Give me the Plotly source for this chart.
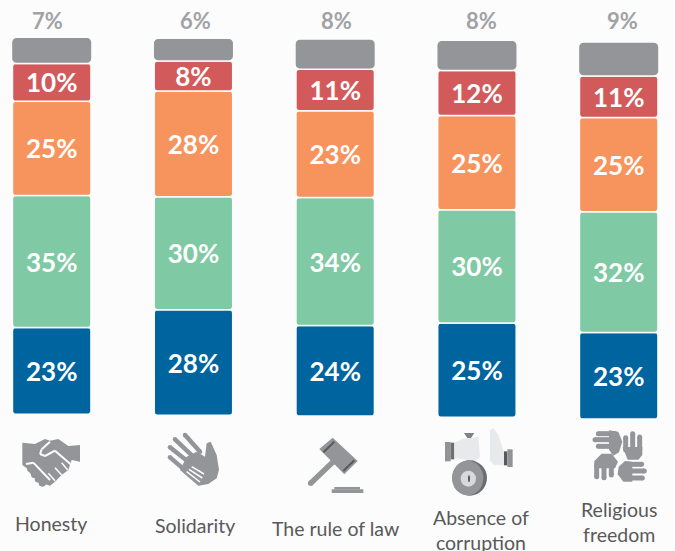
import numpy as np
import plotly.graph_objects as go

W, H = 675, 551
BG = "#fcfcfc"
GRAY = "#939598"

categories = ["Honesty", "Solidarity", "The rule of law", "Absence of<br>corruption", "Religious<br>freedom"]
series_blue = [23, 28, 24, 25, 23]
series_green = [35, 30, 34, 30, 32]
series_orange = [25, 28, 23, 25, 25]
series_red = [10, 8, 11, 12, 11]
series_gray = [7, 6, 8, 8, 9]
baseline = [0, -0.3, -0.5, -0.8, -1.3]

stack = [
    (series_blue, "#00659f", 78.5, 3),
    (series_green, "#7fc9a5", 78.5, 3),
    (series_orange, "#f7935c", 78.5, 3),
    (series_red, "#d35a5a", 78.5, 3),
    (series_gray, GRAY, 80.5, 5),
]

SPACING = 141.75
X0 = 51.7
PX_PER_UNIT = 3.77
Y0 = 414.2

idx = list(range(5))
fig = go.Figure()
base = np.array(baseline, dtype=float)
for vals, col, wpx, rad in stack:
    is_gray = col == GRAY
    fig.add_trace(go.Bar(
        x=idx, y=vals, base=base.tolist(), width=wpx / SPACING,
        marker=dict(color=col, line=dict(color=BG, width=1.5), cornerradius=rad),
        text=None if is_gray else [f"{v}%" for v in vals],
        textposition=None if is_gray else "inside",
        insidetextanchor="middle", textangle=0, constraintext="none",
        textfont=dict(family="Lato", size=26, color="white", weight="bold"),
        hoverinfo="skip", showlegend=False,
    ))
    base = base + np.array(vals)

annotations = []
top_label_shift = [-4, 2.5, 1, 5, 4]
for i, v in enumerate(series_gray):
    annotations.append(dict(
        x=i, xref="x", y=1 - 21 / H, yref="paper", text=f"<b>{v}%</b>", showarrow=False,
        xshift=top_label_shift[i],
        font=dict(family="Lato", size=22, color="#a0a2a5"), xanchor="center", yanchor="middle",
    ))

label_x = [51, 195, 335, 481, 619]
label_y = [523.5, 525.5, 528.5, 530, 522]
for c, lx, ly in zip(categories, label_x, label_y):
    annotations.append(dict(
        x=lx / W, xref="paper", y=1 - ly / H, yref="paper", text=c, showarrow=False,
        font=dict(family="Lato", size=19.5, color="#595959"), xanchor="center", yanchor="middle",
        align="center",
    ))

# ---- pictograms (decorative, drawn in page pixels) ----
shapes = []


def poly(pts, ox, oy, color, s=3):
    d = ""
    for k, (a, b) in enumerate(pts):
        d += ("M" if k == 0 else "L") + f"{(ox + a / s) / W:.5f},{1 - (oy + b / s) / H:.5f} "
    shapes.append(dict(type="path", xref="paper", yref="paper", path=d + "Z",
                       fillcolor=color, line=dict(width=0), layer="above"))


def circle(cx, cy, rx, ry, ox, oy, color, s=3):
    shapes.append(dict(type="circle", xref="paper", yref="paper",
                       x0=(ox + (cx - rx) / s) / W, x1=(ox + (cx + rx) / s) / W,
                       y0=1 - (oy + (cy + ry) / s) / H, y1=1 - (oy + (cy - ry) / s) / H,
                       fillcolor=color, line=dict(width=0), layer="above"))


def stroke(pts, w, ox, oy, color, s=3, caps=True):
    for (a, b), (c, d) in zip(pts[:-1], pts[1:]):
        shapes.append(dict(type="line", xref="paper", yref="paper",
                           x0=(ox + a / s) / W, x1=(ox + c / s) / W,
                           y0=1 - (oy + b / s) / H, y1=1 - (oy + d / s) / H,
                           line=dict(color=color, width=w), layer="above"))
    if caps:
        for a, b in (pts[0], pts[-1]):
            circle(a, b, w * s / 2, w * s / 2, ox, oy, color, s)


# handshake
ox, oy = 0, 420
poly([(67, 68), (105, 72), (135, 57), (150, 62), (175, 57), (205, 78), (240, 75), (240, 125), (215, 120),
      (205, 150), (185, 165), (165, 185), (150, 197), (128, 190), (105, 175), (90, 160), (80, 145), (67, 135)],
     ox, oy, GRAY)
stroke([(150, 65), (125, 88), (120, 102), (135, 108), (165, 92), (218, 138)], 2, ox, oy, BG, caps=False)
stroke([(165, 182), (145, 160)], 1.5, ox, oy, BG, caps=False)
stroke([(185, 165), (165, 143)], 1.5, ox, oy, BG, caps=False)
stroke([(203, 150), (185, 128)], 1.5, ox, oy, BG, caps=False)
stroke([(78, 132), (100, 128), (150, 180)], 2, ox, oy, BG, caps=False)
for cx, cy in [(92, 146), (104, 164), (115, 178), (127, 190)]:
    circle(cx, cy, 11, 10, ox, oy, GRAY)

# helping hands
stroke([(555, 45), (600, 95)], 4.5, ox, oy, GRAY)
stroke([(525, 58), (585, 115)], 4.5, ox, oy, GRAY)
stroke([(510, 82), (570, 130)], 4.5, ox, oy, GRAY)
stroke([(510, 112), (560, 155)], 4.5, ox, oy, GRAY)
poly([(590, 95), (615, 110), (620, 70), (632, 65), (650, 105), (657, 150), (650, 175), (625, 192), (595, 197),
      (540, 150), (560, 110)], ox, oy, GRAY)
stroke([(575, 140), (612, 162)], 1.5, ox, oy, BG, caps=False)
stroke([(567, 148), (607, 174)], 1.5, ox, oy, BG, caps=False)
stroke([(560, 155), (600, 186)], 1.5, ox, oy, BG, caps=False)

# gavel
ox, oy = 300, 425
poly([(58, 72), (98, 38), (173, 108), (133, 148)], ox, oy, GRAY)
stroke([(70, 82), (103, 50)], 2, ox, oy, "#58595b", caps=False)
stroke([(130, 138), (163, 106)], 2, ox, oy, "#58595b", caps=False)
stroke([(32, 175), (98, 112)], 5.5, ox, oy, GRAY)
poly([(95, 193), (190, 193), (190, 204), (95, 204)], ox, oy, GRAY)
poly([(103, 186), (180, 186), (180, 193), (103, 193)], ox, oy, GRAY)

# bribe
ox, oy = 435, 422
poly([(30, 60), (47, 60), (47, 118), (30, 118)], ox, oy, "#929396")
poly([(47, 62), (58, 62), (58, 112), (47, 112)], ox, oy, "#6d6e71")
poly([(58, 62), (85, 50), (130, 45), (135, 105), (120, 118), (58, 108)], ox, oy, "#e8e9ea")
poly([(87, 33), (118, 33), (108, 48), (97, 48)], ox, oy, "#808285")
circle(104, 168, 52, 53, ox, oy, "#6d6e71")
circle(98, 168, 47, 52, ox, oy, GRAY)
circle(100, 170, 23, 24, ox, oy, "#d8d9da")
circle(102, 170, 3, 10, ox, oy, "#58595b")
poly([(165, 25), (175, 18), (190, 40), (207, 90), (207, 130), (175, 128), (165, 115)], ox, oy, "#e8e9ea")
poly([(207, 88), (217, 88), (217, 130), (207, 130)], ox, oy, "#58595b")
poly([(217, 82), (233, 82), (233, 135), (217, 135)], ox, oy, "#929396")

# joined hands
ox, oy = 585, 425
stroke([(40, 26), (90, 26)], 5, ox, oy, GRAY)
stroke([(30, 44), (85, 44)], 5, ox, oy, GRAY)
stroke([(40, 64), (85, 64)], 5, ox, oy, GRAY)
poly([(72, 16), (100, 20), (112, 50), (102, 82), (85, 92), (72, 74)], ox, oy, GRAY)
stroke([(122, 38), (122, 75)], 5, ox, oy, GRAY)
stroke([(143, 26), (143, 75)], 5, ox, oy, GRAY)
stroke([(164, 36), (164, 75)], 5, ox, oy, GRAY)
poly([(113, 66), (172, 66), (172, 90), (160, 104), (128, 104)], ox, oy, GRAY)
poly([(28, 108), (50, 86), (80, 86), (99, 110), (90, 130), (28, 130)], ox, oy, GRAY)
stroke([(35, 120), (35, 155)], 5, ox, oy, GRAY)
stroke([(57, 120), (57, 158)], 5, ox, oy, GRAY)
stroke([(79, 120), (79, 150)], 5, ox, oy, GRAY)
poly([(101, 125), (120, 108), (142, 110), (142, 170), (115, 170), (98, 148)], ox, oy, GRAY)
stroke([(130, 118), (170, 118)], 5, ox, oy, GRAY)
stroke([(130, 138), (178, 138)], 5, ox, oy, GRAY)
stroke([(130, 159), (172, 159)], 5, ox, oy, GRAY)

fig.update_layout(
    width=W, height=H, margin=dict(l=0, r=0, t=0, b=0),
    paper_bgcolor=BG, plot_bgcolor=BG, barmode="overlay",
    xaxis=dict(range=[-X0 / SPACING, (W - X0) / SPACING], visible=False, fixedrange=True),
    yaxis=dict(range=[-(H - Y0) / PX_PER_UNIT, Y0 / PX_PER_UNIT], visible=False, fixedrange=True),
    annotations=annotations, shapes=shapes,
)
fig.write_html(
    "out.html",
    config=dict(displayModeBar=False),
    post_script="document.body.style.margin='0';document.body.style.background='" + BG + "';document.documentElement.style.overflow='hidden';",
)
